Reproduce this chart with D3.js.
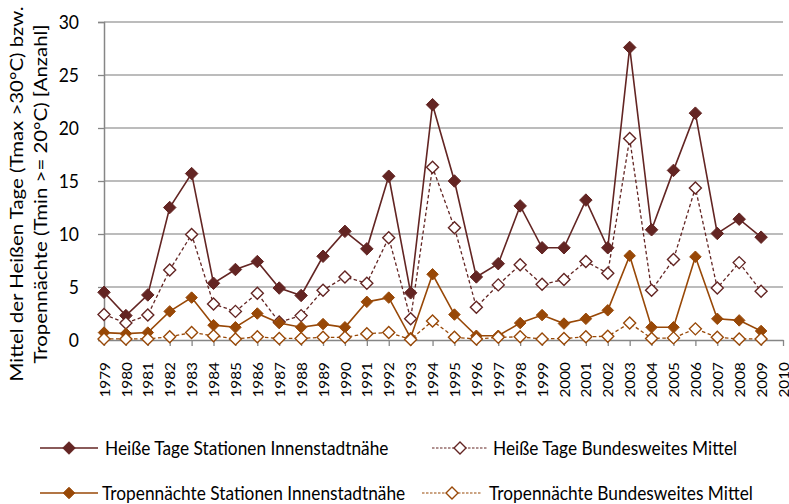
<!DOCTYPE html>
<html><head><meta charset="utf-8">
<script src="https://cdn.jsdelivr.net/npm/d3@7"></script>
<style>
html,body{margin:0;padding:0;background:#fff;}
svg text{font-family:Lato, "Open Sans", sans-serif;fill:#000;}
</style></head>
<body><svg id="c" width="789" height="504"></svg>
<script>
const years = d3.range(1979, 2011).map(String);
const dataYears = d3.range(1979, 2010).map(String);
const heisseInnen = [4.5, 2.3, 4.25, 12.5, 15.7, 5.35, 6.65, 7.4, 4.9, 4.2, 7.9, 10.25, 8.6, 15.45, 4.45, 22.2, 15.0, 5.95, 7.2, 12.65, 8.7, 8.7, 13.2, 8.7, 27.6, 10.4, 16.0, 21.4, 10.05, 11.4, 9.7];
const heisseBund = [2.4, 1.6, 2.35, 6.6, 9.95, 3.4, 2.7, 4.4, 1.7, 2.3, 4.7, 5.95, 5.35, 9.65, 2.0, 16.3, 10.6, 3.1, 5.2, 7.1, 5.25, 5.7, 7.4, 6.3, 19.0, 4.7, 7.6, 14.35, 4.9, 7.3, 4.6];
const tropInnen = [0.7, 0.6, 0.7, 2.7, 4.0, 1.4, 1.2, 2.5, 1.6, 1.2, 1.5, 1.2, 3.6, 4.0, 0.2, 6.2, 2.4, 0.4, 0.4, 1.6, 2.35, 1.55, 2.0, 2.8, 7.95, 1.2, 1.2, 7.85, 2.0, 1.85, 0.85];
const tropBund = [0.1, 0.1, 0.1, 0.3, 0.7, 0.4, 0.1, 0.3, 0.15, 0.15, 0.25, 0.25, 0.6, 0.7, 0.05, 1.8, 0.25, 0.1, 0.25, 0.3, 0.1, 0.15, 0.3, 0.35, 1.6, 0.15, 0.2, 1.05, 0.25, 0.1, 0.1];
const yTicks = [0, 5, 10, 15, 20, 25, 30];
const seriesNames = ["Heiße Tage Stationen Innenstadtnähe", "Heiße Tage Bundesweites Mittel", "Tropennächte Stationen Innenstadtnähe", "Tropennächte Bundesweites Mittel"];
const yTitle = ["Mittel der Heißen Tage  (Tmax >30°C) bzw.", "Tropennächte (Tmin >= 20°C)  [Anzahl]"];

const dark = "#632523", orange = "#984807";
const series = [
  {name: seriesNames[0], values: heisseInnen, color: dark, dash: null, filled: true, size: 12.5},
  {name: seriesNames[1], values: heisseBund, color: dark, dash: "3.5,2.5", filled: false, size: 12},
  {name: seriesNames[2], values: tropInnen, color: orange, dash: null, filled: true, size: 11.5},
  {name: seriesNames[3], values: tropBund, color: orange, dash: "3.5,2.5", filled: false, size: 12}
];

const svg = d3.select("#c");
const x = d3.scalePoint().domain(years).range([104, 783]);
const y = d3.scaleLinear().domain([0, 30]).range([340, 22]);

// gridlines
svg.append("g").selectAll("line").data(yTicks.filter(d => d > 0)).join("line")
  .attr("x1", 104).attr("x2", 783).attr("y1", d => y(d)).attr("y2", d => y(d))
  .attr("stroke", "#a6a6a6").attr("stroke-width", 1.3);

// y axis
const ya = svg.append("g").attr("transform", "translate(104,0)")
  .call(d3.axisLeft(y).tickValues(yTicks).tickSize(6).tickPadding(19));
ya.select(".domain").attr("stroke", "#868686").attr("stroke-width", 1.5);
ya.selectAll(".tick line").attr("stroke", "#868686").attr("stroke-width", 1.3);
ya.selectAll(".tick text").style("font-size", "17.5px").attr("font-family", null)
  .attr("transform", "scale(1,1.1)").attr("y", 0).attr("dy", "0.32em");

// x axis
const xs = 1.08;
const xa = svg.append("g").attr("transform", "translate(0,340)")
  .call(d3.axisBottom(x).tickSize(6).tickSizeOuter(0));
xa.select(".domain").attr("stroke", "#868686").attr("stroke-width", 1.5);
xa.selectAll(".tick line").attr("stroke", "#868686").attr("stroke-width", 1.3);
xa.selectAll(".tick text").style("font-size", "14.2px").attr("font-family", null)
  .attr("transform", `rotate(-90) scale(${xs},1)`).attr("text-anchor", "end")
  .attr("x", -22 / xs).attr("y", 0).attr("dy", "0.36em");

// y title
const ts = 1.2;
svg.append("g").selectAll("text").data(yTitle).join("text")
  .attr("transform", (d, i) => `translate(${i === 0 ? 17 : 41},194) rotate(-90) scale(${ts},1)`)
  .attr("text-anchor", "middle").attr("dy", "0.35em").style("font-size", "17px").text(d => d);

function drawMarker(g, s, cx, cy) {
  const r = s.size / 2;
  g.append("path").attr("d", `M${cx},${cy - r}L${cx + r},${cy}L${cx},${cy + r}L${cx - r},${cy}Z`)
    .attr("fill", s.filled ? s.color : "#fff").attr("stroke", s.color).attr("stroke-width", s.filled ? 1 : 1.4);
}

const line = d3.line().x((d, i) => x(dataYears[i])).y(d => y(d));
series.forEach(s => {
  const g = svg.append("g");
  g.append("path").attr("d", line(s.values)).attr("fill", "none").attr("stroke", s.color)
    .attr("stroke-width", s.dash ? 1.3 : 1.6).attr("stroke-dasharray", s.dash);
  s.values.forEach((v, i) => drawMarker(g, s, x(dataYears[i]), y(v)));
});

// legend
const legendPos = [
  {lx1: 40, lx2: 98, mx: 69, tx: 105, ty: 448},
  {lx1: 432, lx2: 487, mx: 460, tx: 493, ty: 448},
  {lx1: 40, lx2: 98, mx: 69, tx: 102, ty: 493},
  {lx1: 422, lx2: 482, mx: 452, tx: 489, ty: 493}
];
series.forEach((s, i) => {
  const p = legendPos[i];
  const g = svg.append("g");
  g.append("line").attr("x1", p.lx1).attr("x2", p.lx2).attr("y1", p.ty).attr("y2", p.ty)
    .attr("stroke", s.color).attr("stroke-width", s.dash ? 1.2 : 1.6).attr("stroke-dasharray", s.dash ? "2.5,1.5" : null);
  drawMarker(g, s, p.mx, p.ty);
  g.append("text").attr("transform", `translate(${p.tx},${p.ty}) scale(1,1.12)`)
    .attr("dy", "0.35em").style("font-size", "17.3px").text(s.name);
});
</script></body></html>
